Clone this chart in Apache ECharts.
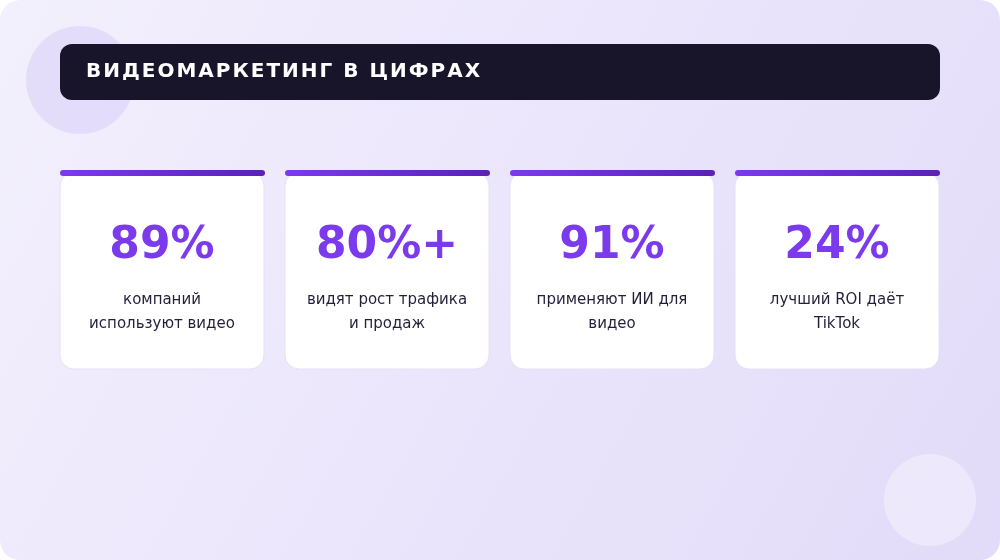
<!DOCTYPE html>
<html><head><meta charset="utf-8">
<script src="https://cdn.jsdelivr.net/npm/echarts@6/dist/echarts.min.js"></script>
<style>html,body{margin:0;padding:0;background:#fff}#c{width:1000px;height:560px}</style>
</head><body><div id="c"></div>
<script>
const title = 'ВИДЕОМАРКЕТИНГ В ЦИФРАХ';
const values = ['89%', '80%+', '91%', '24%'];
const labelLine1 = ['компаний', 'видят рост трафика', 'применяют ИИ для', 'лучший ROI даёт'];
const labelLine2 = ['используют видео', 'и продаж', 'видео', 'TikTok'];

const chart = echarts.init(document.getElementById('c'), null, {renderer: 'canvas'});
const font = 'DejaVu Sans, sans-serif';
const g = [
  {type:'rect', shape:{x:0,y:0,width:1000,height:560,r:20},
   style:{fill:new echarts.graphic.LinearGradient(0,0,1,1,[{offset:0,color:'#f3f0fd'},{offset:1,color:'#e2dbf9'}])}},
  {type:'circle', shape:{cx:80,cy:80,r:54}, style:{fill:'rgba(200,190,245,0.35)'}},
  {type:'circle', shape:{cx:930,cy:500,r:46}, style:{fill:'rgba(255,255,255,0.35)'}},
  {type:'rect', shape:{x:60,y:44,width:880,height:56,r:12}, style:{fill:'#18152a'}},
  {type:'text', x:86, y:72, style:{text:title.split('').join('\u200A'), fill:'#ffffff', font:'bold 20px '+font, textVerticalAlign:'middle'}}
];
const xs = [60, 285, 510, 735];
values.forEach((v,i)=>{
  const x = xs[i], w = 204;
  g.push({type:'rect', shape:{x:x,y:172,width:w,height:197,r:14},
    style:{fill:'#ffffff', stroke:'#e6e0f7', lineWidth:1}});
  g.push({type:'rect', shape:{x:x,y:170,width:w+1,height:6,r:3},
    style:{fill:new echarts.graphic.LinearGradient(0,0,1,0,[{offset:0,color:'#7c3aed'},{offset:1,color:'#5b21b6'}])}});
  g.push({type:'text', x:x+w/2, y:247, style:{text:v, fill:'#7c3aed', font:'bold 44px '+font, textAlign:'center', textVerticalAlign:'middle'}});
  g.push({type:'text', x:x+w/2, y:300, style:{text:labelLine1[i], fill:'#231f3a', font:'15px '+font, textAlign:'center', textVerticalAlign:'middle'}});
  g.push({type:'text', x:x+w/2, y:324, style:{text:labelLine2[i], fill:'#231f3a', font:'15px '+font, textAlign:'center', textVerticalAlign:'middle'}});
});
chart.setOption({animation:false, graphic:{elements:g}});
</script></body></html>
